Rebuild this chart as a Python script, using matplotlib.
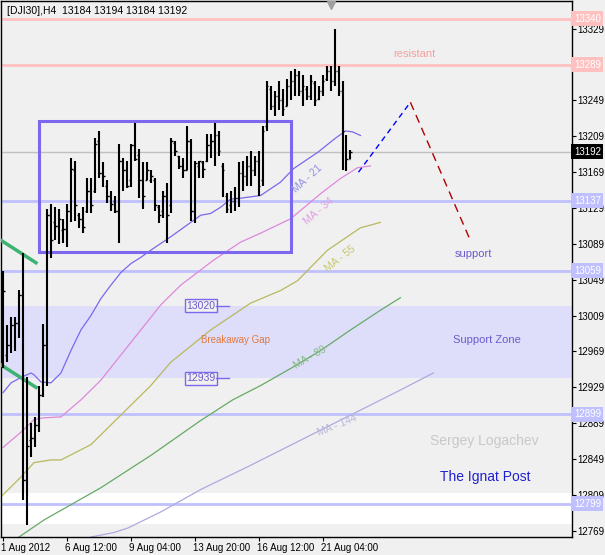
import matplotlib.pyplot as plt
import matplotlib.transforms as mtransforms

plt.rcParams['font.family'] = ['Liberation Sans', 'DejaVu Sans']

# H4 bars of DJI30, 1 Aug - 22 Aug 2012 (bar index = position on chart)
opens = [13004, 12965, 12976, 12998, 13001, 13032, 12826, 12870, 12873, 12887,
         12920, 12976, 13121, 13113, 13109, 13104, 13106, 13126, 13171, 13121,
         13117, 13126, 13148, 13148, 13204, 13168, 13154, 13142, 13137, 13126,
         13182, 13171, 13160, 13199, 13188, 13160, 13160, 13160, 13160, 13130,
         13126, 13143, 13132, 13202, 13187, 13176, 13171, 13204, 13126, 13176,
         13180, 13182, 13199, 13204, 13210, 13176, 13143, 13132, 13137, 13140,
         13168, 13165, 13176, 13171, 13182, 13160, 13221, 13262, 13243, 13254,
         13249, 13243, 13265, 13271, 13277, 13260, 13262, 13254, 13269, 13251,
         13260, 13273, 13282, 13271, 13282, 13260, 13205, 13184]
highs = [13059, 12998, 13007, 13007, 13038, 13079, 12940, 12889, 12896, 12931,
         13000, 13128, 13134, 13130, 13128, 13117, 13134, 13185, 13182, 13124,
         13130, 13163, 13163, 13207, 13215, 13180, 13160, 13148, 13143, 13201,
         13185, 13182, 13201, 13224, 13195, 13180, 13180, 13171, 13162, 13132,
         13148, 13157, 13207, 13204, 13187, 13185, 13220, 13206, 13182, 13182,
         13182, 13212, 13212, 13224, 13215, 13179, 13146, 13148, 13152, 13180,
         13182, 13187, 13193, 13187, 13193, 13221, 13271, 13265, 13260, 13271,
         13262, 13273, 13282, 13284, 13282, 13277, 13265, 13277, 13271, 13265,
         13277, 13288, 13288, 13329, 13288, 13271, 13210, 13194]
lows = [12951, 12957, 12967, 12970, 12984, 12803, 12775, 12851, 12862, 12879,
        12918, 12931, 13073, 13093, 13089, 13090, 13085, 13113, 13115, 13107,
        13101, 13124, 13123, 13146, 13162, 13152, 13135, 13126, 13123, 13090,
        13148, 13151, 13152, 13182, 13140, 13128, 13160, 13157, 13126, 13112,
        13118, 13090, 13123, 13187, 13173, 13163, 13171, 13115, 13112, 13162,
        13162, 13180, 13185, 13176, 13187, 13141, 13124, 13123, 13126, 13130,
        13148, 13154, 13154, 13165, 13143, 13154, 13215, 13238, 13232, 13238,
        13232, 13243, 13249, 13254, 13254, 13243, 13249, 13249, 13243, 13249,
        13254, 13271, 13260, 13265, 13254, 13171, 13170, 13184]
closes = [13037, 12976, 12998, 13001, 13032, 12826, 12864, 12873, 12887, 12920,
          12976, 13121, 13093, 13109, 13117, 13106, 13126, 13173, 13132, 13117,
          13108, 13148, 13132, 13201, 13168, 13165, 13142, 13134, 13126, 13182,
          13171, 13154, 13199, 13184, 13160, 13143, 13171, 13165, 13132, 13121,
          13143, 13121, 13204, 13193, 13176, 13171, 13204, 13126, 13179, 13182,
          13173, 13199, 13204, 13210, 13193, 13171, 13128, 13137, 13140, 13168,
          13165, 13176, 13171, 13182, 13154, 13215, 13265, 13243, 13254, 13249,
          13240, 13265, 13271, 13277, 13260, 13265, 13254, 13271, 13249, 13260,
          13271, 13282, 13271, 13282, 13260, 13215, 13184, 13192]

# moving averages (shifted forward), read as (bar index, price)
ma21_x = [0, 2, 4.5, 7, 7.75, 9.5, 12, 14.5, 17, 19.5, 22, 24.5, 27, 29.5, 32, 34.5,
          37, 42, 47, 49.5, 52, 54.5, 57, 59.5, 64.5, 69.5, 72.75, 78.75, 83.25,
          85.75, 87.5, 89.5]
ma21_y = [12923, 12934, 12940, 12945, 12943, 12935, 12934, 12945, 12970, 12993,
          13009, 13028, 13043, 13057, 13067, 13074, 13082, 13097, 13113, 13121,
          13123, 13130, 13139, 13140, 13143, 13158, 13173, 13191, 13207, 13215,
          13214, 13210]
ma34_x = [0, 4.5, 7.75, 10.25, 14.5, 19.5, 24.5, 29.5, 34.5, 39.5, 44.5, 49.5,
          52.75, 59.5, 64.5, 72, 79.5, 84.5, 88.75, 92]
ma34_y = [12862, 12879, 12893, 12895, 12896, 12915, 12937, 12965, 12993, 13021,
          13043, 13060, 13071, 13091, 13101, 13117, 13145, 13162, 13174, 13176]
ma55_x = [-0.5, 4.5, 7.75, 12, 14.5, 22, 29.5, 37, 42, 52, 62, 69.5, 73.75, 81.25,
          89.5, 94.5]
ma55_y = [12807, 12829, 12845, 12848, 12848, 12865, 12898, 12931, 12957, 12993,
          13023, 13037, 13048, 13082, 13107, 13113]
ma89_x = [4, 10.25, 24.5, 37, 49.5, 57.5, 64.5, 72, 79.5, 87, 94.5, 99.5]
ma89_y = [12762, 12781, 12817, 12853, 12892, 12915, 12931, 12950, 12970, 12993,
          13015, 13029]
ma144_x = [22, 27.75, 31.25, 39.5, 49.5, 62, 74.5, 87, 99.5, 107.75]
ma144_y = [12762, 12767, 12772, 12790, 12815, 12842, 12870, 12898, 12926, 12945]

tick_pos = [0, 16, 32, 48, 64, 80]
tick_lbl = ['1 Aug 2012', '6 Aug 12:00', '9 Aug 04:00', '13 Aug 20:00',
            '16 Aug 12:00', '21 Aug 04:00']
price_ticks = [12769, 12809, 12849, 12889, 12929, 12969, 13009, 13049, 13089,
               13129, 13169, 13209, 13249, 13329]

resist_lvls = [13340, 13289]
support_lvls = [13137, 13059, 12899, 12799]
last_price = 13192
zone_top, zone_bot = 13020, 12939

fig = plt.figure(figsize=(6.05, 5.55), dpi=100)
fig.patch.set_facecolor('#f0f0f0')
ax = fig.add_axes([0.0017, 0.0324, 0.944, 0.9658])
ax.set_facecolor('#f0f0f0')
ax.set_xlim(-0.5, 142.5)
ax.set_ylim(12762, 13360)

# zones
ax.axhspan(zone_bot, zone_top, color='#dedefa', lw=0, zorder=0)
ax.axhspan(12776, 12811, color='white', lw=0, zorder=0)

for v in resist_lvls:
    ax.axhline(v, color='#ffc0c0', lw=2, zorder=1)
for v in support_lvls:
    ax.axhline(v, color='#c0c0ff', lw=2, zorder=1)
ax.axhline(last_price, color='#c0c0c0', lw=1, zorder=1)

# moving averages
ax.plot(ma21_x, ma21_y, color='#7b68ee', lw=0.9, zorder=2)
ax.plot(ma34_x, ma34_y, color='#dd88dd', lw=0.9, zorder=2)
ax.plot(ma55_x, ma55_y, color='#b8b860', lw=0.9, zorder=2)
ax.plot(ma89_x, ma89_y, color='#66aa66', lw=0.9, zorder=2)
ax.plot(ma144_x, ma144_y, color='#b0a8e0', lw=0.9, zorder=2)

# OHLC bars
idx = range(len(opens))
ax.vlines(idx, lows, highs, color='black', lw=1.5, zorder=4)
ax.hlines(opens, [i - 0.45 for i in idx], idx, color='black', lw=1, zorder=4)
ax.hlines(closes, idx, [i + 0.45 for i in idx], color='black', lw=1, zorder=4)

# consolidation rectangle
ax.add_patch(plt.Rectangle((9, 13079.6), 63, 147, fill=False,
                           ec='#7b68ee', lw=2.2, zorder=3))
# trend channel pieces
ax.plot([-0.5, 8.25], [13093, 13068], color='#3cb371', lw=2.5, zorder=3)
ax.plot([-0.5, 8.25], [12954, 12929], color='#3cb371', lw=2.5, zorder=3)
# projection
ax.plot([89, 102], [13169, 13247], color='blue', lw=1, ls=(0, (4, 3)), zorder=3)
ax.plot([102, 117], [13247, 13093], color='#b00000', lw=1, ls=(0, (6, 4)), zorder=3)

# texts
ax.text(97.75, 13301, 'resistant', color='#f4a0a0', fontsize=8, va='center')
ax.text(113, 13078, 'support', color='#6a5acd', fontsize=8, va='center')
ax.text(112.75, 12982, 'Support Zone', color='#6a5acd', fontsize=8, va='center')
ax.text(49.5, 12982, 'Breakaway Gap', color='#e07840', fontsize=7, va='center')
ax.text(107, 12869, 'Sergey Logachev', color='#c8c8c8', fontsize=10, va='center')
ax.text(109.5, 12829, 'The Ignat Post', color='#2020d0', fontsize=10, va='center')
ax.text(76.25, 13162, 'MA - 21', color='#9090e0', fontsize=7.5, rotation=42,
        ha='center', va='center')
ax.text(79, 13126, 'MA - 34', color='#e0a0e0', fontsize=7.5, rotation=40,
        ha='center', va='center')
ax.text(84.5, 13073, 'MA - 55', color='#c8c870', fontsize=7.5, rotation=38,
        ha='center', va='center')
ax.text(77, 12962, 'MA - 89', color='#88bb88', fontsize=7.5, rotation=30,
        ha='center', va='center')
ax.text(83.75, 12887, 'MA - 144', color='#b8b8dc', fontsize=7.5, rotation=22,
        ha='center', va='center')

for v in [zone_top, zone_bot]:
    ax.text(49.5, v, str(v), color='#6a5acd', fontsize=7.5, ha='center', va='center',
            bbox=dict(boxstyle='square,pad=0.15', fc='#f0f0f0', ec='#7b68ee', lw=1),
            zorder=5)
    ax.plot([53.3, 56.5], [v, v], color='#7b68ee', lw=1, zorder=5)

ax.text(0.01, 0.982, '[DJI30],H4  13184 13194 13184 13192', transform=ax.transAxes,
        fontsize=7.5, va='center')
ax.plot([82], [13355], marker='v', color='#a0a0a0', ms=6, clip_on=False, zorder=6)

# axes
ax.yaxis.tick_right()
ax.set_yticks(price_ticks)
ax.set_xticks(tick_pos)
ax.set_xticklabels(tick_lbl, ha='left')
ax.tick_params(axis='both', labelsize=7, length=3, color='black', pad=1)
for lbl in ax.get_xticklabels():
    lbl.set_transform(lbl.get_transform() + mtransforms.ScaledTranslation(-0.02, 0, fig.dpi_scale_trans))
for s in ax.spines.values():
    s.set_color('black')
    s.set_linewidth(1)

# price markers on the right scale
trans = mtransforms.blended_transform_factory(ax.transAxes, ax.transData)
def price_tag(v, fc):
    ax.text(1.003, v, str(v), transform=trans, color='white', fontsize=7,
            va='center', ha='left', clip_on=False, zorder=7,
            bbox=dict(boxstyle='square,pad=0.25', fc=fc, ec='none'))
for v in resist_lvls:
    price_tag(v, '#ffc0c0')
for v in support_lvls:
    price_tag(v, '#c0c0ff')
price_tag(last_price, 'black')

fig.savefig('out.png', dpi=100, facecolor=fig.get_facecolor())
